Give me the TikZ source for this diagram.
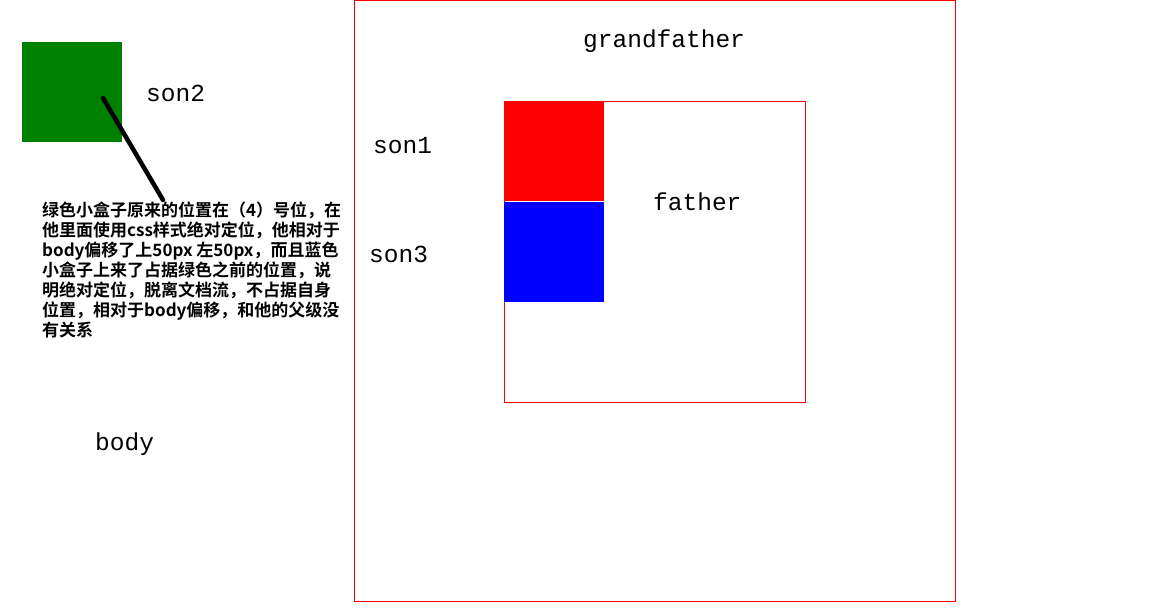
\documentclass[tikz,border=0pt]{standalone}
\usepackage{fontspec}
\setmainfont{Liberation Mono}
\newfontfamily\cjk{Noto Sans CJK SC}[BoldFont={* Bold}]
\definecolor{boxgreen}{RGB}{0,128,0}
\tikzset{
  lbl/.style={anchor=base west, inner sep=0pt, font=\fontsize{24.5}{28}\selectfont},
  redframe/.style={draw=red, line width=1pt},
  filled/.style={inner sep=0pt, minimum width=100pt, minimum height=100pt, anchor=north west, draw=none}
}
\begin{document}
\begin{tikzpicture}[x=1pt,y=-1pt]
\useasboundingbox (0,0) rectangle (1158,611);
\fill[white] (0,0) rectangle (1158,611);
% boxes
\node[redframe, anchor=north west, inner sep=0pt, minimum width=601pt, minimum height=601pt] (grandfather) at (354,0) {};
\node[redframe, anchor=north west, inner sep=0pt, minimum width=301pt, minimum height=301pt] (father) at (504,101) {};
\node[filled, fill=red] (son1box) at (504,101) {};
\node[filled, fill=blue] (son3box) at (504,201.5) {};
\node[filled, fill=boxgreen] (son2box) at (22,42) {};
% labels
\node[lbl] (tgrand) at (583,47) {grandfather};
\node[lbl] (tfather) at (653,210) {father};
\node[lbl] (tson1) at (373,153) {son1};
\node[lbl] (tson3) at (369,262) {son3};
\node[lbl] (tson2) at (146,101) {son2};
\node[lbl] (tbody) at (95,450) {body};
% note
\node[anchor=north west, inner sep=0pt, align=left, font=\cjk\bfseries\fontsize{17}{20}\selectfont] (note) at (42,201.5)
{绿色小盒子原来的位置在（4）号位，在\\
他里面使用css样式绝对定位，他相对于\\
body偏移了上50px 左50px，而且蓝色\\
小盒子上来了占据绿色之前的位置，说\\
明绝对定位，脱离文档流，不占据自身\\
位置，相对于body偏移，和他的父级没\\
有关系};
\coordinate (pstart) at (103,98);
\coordinate (pend) at (163,200);
\draw[line width=4.5pt, line cap=round] (pstart) -- (pend);
\end{tikzpicture}
\end{document}
